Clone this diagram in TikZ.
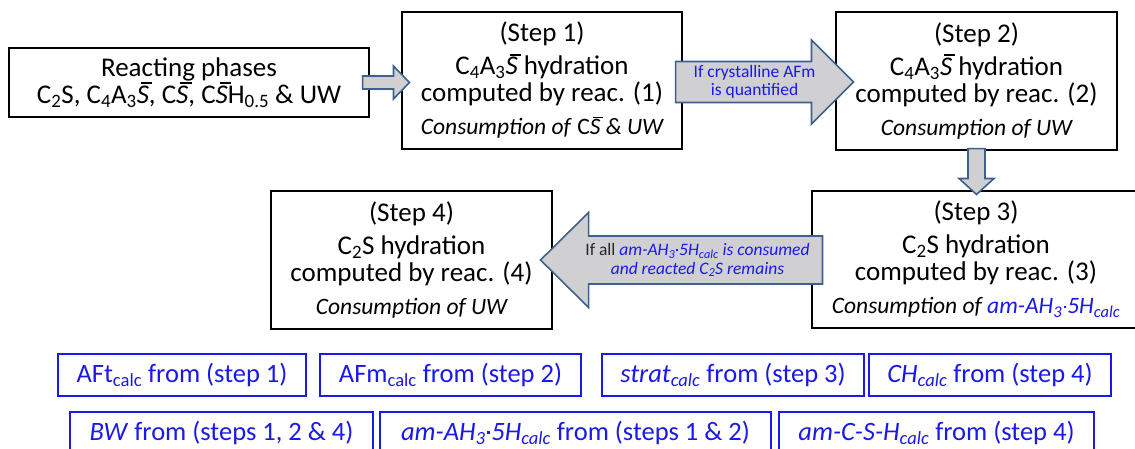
\documentclass[tikz,border=0pt]{standalone}
\usepackage{fontspec}
\setmainfont{Carlito}
\usetikzlibrary{calc}
\definecolor{arrowline}{RGB}{62,96,142}
\definecolor{arrowfill}{RGB}{208,208,210}
\definecolor{txtblue}{RGB}{25,25,235}
% S with an overbar (sulfate notation)
\newcommand\Sb{\makebox[0pt][l]{\hspace{0.15em}\rule[0.72em]{0.42em}{0.06em}}\textit{S}}
% small raised dot of a hydrate formula
\newcommand\hdot{\kern0.06em\rule[0.26em]{0.1em}{0.1em}\kern0.06em}
% smaller italic line at the foot of each step box
\newcommand\footline[1]{{\fontsize{23.5}{27}\selectfont\itshape #1}}
\begin{document}
\begin{tikzpicture}[x=1pt,y=-1pt,
  stepbox/.style={draw=black, line width=1.1pt, fill=white, align=center, inner sep=0pt,
    font=\fontsize{27}{27}\selectfont},
  resbox/.style={draw=txtblue, line width=1.3pt, text=txtblue, inner sep=0pt,
    minimum height=42pt, font=\fontsize{26.5}{27}\selectfont},
  blockarrow/.style={draw=arrowline, fill=arrowfill, line width=1.6pt, line join=miter},
  arrowlabel/.style={text=txtblue, align=center, inner sep=0pt, font=\fontsize{17.5}{18.5}\selectfont}]
\useasboundingbox (0,0) rectangle (1135,448);
\clip (0,0) rectangle (1135,448);

% process boxes
\node[stepbox, minimum width=360pt, minimum height=69pt] (b0) at (189,82.5)
  {Reacting phases\\
   C\textsubscript{2}S, C\textsubscript{4}A\textsubscript{3}\Sb, C\Sb, C\Sb H\textsubscript{0.5} \& UW};
\node[stepbox, minimum width=280pt, minimum height=137pt] (s1) at (542,80.5)
  {(Step 1)\\[6pt]
   C\textsubscript{4}A\textsubscript{3}\Sb{} hydration\\
   computed by reac. (1)\\[6pt]
   \footline{Consumption of \textup{C}\Sb{} \& UW}};
\node[stepbox, minimum width=281pt, minimum height=138pt] (s2) at (976.5,81)
  {(Step 2)\\[6pt]
   C\textsubscript{4}A\textsubscript{3}\Sb{} hydration\\
   computed by reac. (2)\\[6pt]
   \footline{Consumption of UW}};
\node[stepbox, minimum width=328pt, minimum height=137pt] (s3) at (976,259.5)
  {(Step 3)\\[6pt]
   C\textsubscript{2}S hydration\\
   computed by reac. (3)\\[6pt]
   \footline{Consumption of \textcolor{txtblue}{am-AH\textsubscript{3}\hdot 5H\textsubscript{calc}}}};
\node[stepbox, minimum width=281pt, minimum height=138pt] (s4) at (411.5,260)
  {(Step 4)\\[6pt]
   C\textsubscript{2}S hydration\\
   computed by reac. (4)\\[6pt]
   \footline{Consumption of UW}};

% block arrows between the boxes
\coordinate (a1s) at ($(b0.east)+(-7,0)$);
\coordinate (a1e) at ($(a1s -| s1.west)+(8,0)$);
\draw[blockarrow] ($(a1s)+(0,-6.5)$) -- ($(a1e)+(-16,-6.5)$) -- ($(a1e)+(-16,-16.5)$)
  -- (a1e) -- ($(a1e)+(-16,16.5)$) -- ($(a1e)+(-16,6.5)$) -- ($(a1s)+(0,6.5)$) -- cycle;

\coordinate (a2s) at ($(s1.east)+(-7,1.5)$);
\coordinate (a2e) at ($(a2s -| s2.west)+(18,0)$);
\draw[blockarrow] ($(a2s)+(0,-20.5)$) -- ($(a2e)+(-42,-20.5)$) -- ($(a2e)+(-42,-42)$)
  -- (a2e) -- ($(a2e)+(-42,42)$) -- ($(a2e)+(-42,20.5)$) -- ($(a2s)+(0,20.5)$) -- cycle;
\node[arrowlabel] (l2) at ($(a2s)+(79,0)$) {If crystalline AFm\\is quantified};

\coordinate (a3s) at ($(s2.south)+(0,-2)$);
\coordinate (a3e) at ($(a3s |- s3.north)+(0,4)$);
\draw[blockarrow] ($(a3s)+(-8.5,0)$) -- ($(a3e)+(-8.5,-16)$) -- ($(a3e)+(-17.5,-16)$)
  -- (a3e) -- ($(a3e)+(17.5,-16)$) -- ($(a3e)+(8.5,-16)$) -- ($(a3s)+(8.5,0)$) -- cycle;

\coordinate (a4s) at ($(s3.west)+(11,0.5)$);
\coordinate (a4e) at ($(a4s -| s4.east)+(-12,0)$);
\draw[blockarrow] ($(a4s)+(0,-24)$) -- ($(a4e)+(48,-24)$) -- ($(a4e)+(48,-47.5)$)
  -- (a4e) -- ($(a4e)+(48,47.5)$) -- ($(a4e)+(48,24)$) -- ($(a4s)+(0,24)$) -- cycle;
\node[arrowlabel] (l4) at ($(a4s)+(-125,0)$)
  {\textcolor{black!85}{If all} \textit{am-AH\textsubscript{3}\hdot 5H\textsubscript{calc} is consumed}\\
   \textit{and reacted C\textsubscript{2}S remains}};

% calculated phases
\node[resbox, minimum width=248pt] (r1) at (182,375) {AFt\textsubscript{calc} from (step 1)};
\node[resbox, minimum width=261pt] (r2) at (450.5,375) {AFm\textsubscript{calc} from (step 2)};
\node[resbox, minimum width=262pt] (r3) at (733,375) {\textit{strat\textsubscript{calc}} from (step 3)};
\node[resbox, minimum width=242pt] (r4) at (990,375) {\textit{CH\textsubscript{calc}} from (step 4)};
\node[resbox, minimum width=303pt] (r5) at (221.5,433) {\textit{BW} from (steps 1, 2 \& 4)};
\node[resbox, minimum width=391pt] (r6) at (575.5,433)
  {\textit{am-AH\textsubscript{3}\hdot 5H\textsubscript{calc}} from (steps 1 \& 2)};
\node[resbox, minimum width=315pt] (r7) at (936.5,433) {\textit{am-C-S-H\textsubscript{calc}} from (step 4)};
\end{tikzpicture}
\end{document}
